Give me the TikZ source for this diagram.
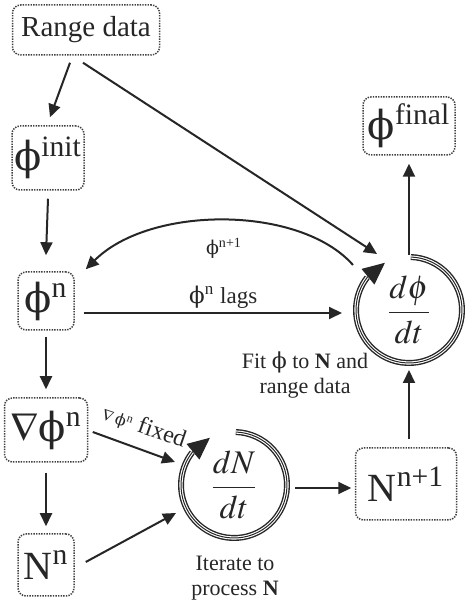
\documentclass[tikz,border=0pt]{standalone}
\usepackage{amsmath}
\usepackage{mathptmx}
\usepackage{fontspec}
\setmainfont{Liberation Serif}
\newfontfamily\phifont{DejaVu Serif}
\usetikzlibrary{arrows.meta}
\newcommand{\uphi}{{\phifont\char"03D5}}

\begin{document}
\begin{tikzpicture}[x=0.5pt,y=0.5pt,
    box/.style={draw=black!75,dash pattern=on 0.7pt off 0.6pt,line width=0.75pt,
      rounded corners=4pt,inner sep=1pt,text=black!85,font=\fontsize{20}{22}\selectfont},
    arr/.style={-{Triangle[length=6.5pt,width=6pt]},line width=1pt,black!85},
    ring/.style={line width=0.7pt,black!85,double distance=1.6pt,
      postaction={draw,line width=0.5pt,black!85}},
    tip/.style={-{Triangle[length=11pt,width=10pt]},line width=0.6pt,black!85},
    lab/.style={text=black!85,inner sep=1pt,font=\fontsize{10.5}{12}\selectfont}]
  \useasboundingbox (0,0) rectangle (467,609);

  % boxes
  \node[box,minimum width=73.5pt,minimum height=25pt,font=\fontsize{14.5}{16}\selectfont] (range) at (86,579) {Range data};
  \node[box,minimum width=36pt,minimum height=32pt] (init) at (48,451) {\uphi\textsuperscript{init}};
  \node[box,minimum width=28pt,minimum height=29pt] (phin) at (46,308) {\uphi\textsuperscript{n}};
  \node[box,minimum width=41.5pt,minimum height=32pt] (grad) at (46,179) {$\nabla$\uphi\textsuperscript{n}};
  \node[box,minimum width=28pt,minimum height=31pt] (Nn) at (46,44) {N\textsuperscript{n}};
  \node[box,minimum width=50.5pt,minimum height=36pt] (Nn1) at (406,125) {N\textsuperscript{n+1}};
  \node[box,minimum width=46pt,minimum height=29pt] (final) at (409,483) {\uphi\textsuperscript{final}};

  % rate circles
  \node[circle,minimum size=55pt,inner sep=0pt,text=black!85,font=\fontsize{16.5}{18}\selectfont] (dphi) at (409,299) {$\dfrac{d\phi}{dt}$};
  \node[circle,minimum size=55pt,inner sep=0pt,text=black!85,font=\fontsize{16.5}{18}\selectfont] (dN) at (234,124) {$\dfrac{dN}{dt}$};
  \draw[ring] (dphi.center) ++(88:26.5pt) arc[start angle=88,end angle=-218,radius=26.5pt];
  \draw[tip] ([shift={(142:26.5pt)}]dphi.center) -- ([shift={(117:26.5pt)}]dphi.center);
  \draw[ring] (dN.center) ++(88:26.5pt) arc[start angle=88,end angle=-218,radius=26.5pt];
  \draw[tip] ([shift={(142:26.5pt)}]dN.center) -- ([shift={(117:26.5pt)}]dN.center);

  % connectors
  \draw[arr] ([shift={(-16,-7)}]range.south) -- ([shift={(2,8)}]init.north);
  \draw[arr] ([shift={(-3,-7)}]range.south) -- ([shift={(-32,56)}]dphi.center);
  \draw[arr] ([shift={(0,-8)}]init.south) -- ([shift={(0,16)}]phin.north);
  \draw[arr] ([shift={(0,-6)}]phin.south) -- ([shift={(0,8)}]grad.north);
  \draw[arr] ([shift={(0,-10)}]grad.south) -- ([shift={(0,7)}]Nn.north);
  \draw[arr] ([shift={(9,-12)}]phin.east) -- ([shift={(-67,-3)}]dphi.center)
    node[lab,pos=0.54,above=1pt,font=\fontsize{11.5}{13}\selectfont] (lags) {\uphi\textsuperscript{n} lags};
  \draw[arr] ([shift={(-56,45)}]dphi.center) .. controls (300,404) and (150,404) .. ([shift={(11,2)}]phin.north east);
  \node[lab,font=\fontsize{9.5}{11}\selectfont] (next) at (224,361) {\uphi\textsuperscript{n+1}};
  \draw[arr] ([shift={(4.5,-2)}]grad.east) -- ([shift={(-59,23)}]dN.center);
  \node[lab,rotate=-19,font=\fontsize{12}{14}\selectfont] (fixed) at (144,182) {{\footnotesize$\nabla$\,\uphi\textsuperscript{n}} fixed};
  \draw[arr] ([shift={(11,3)}]Nn.east) -- ([shift={(-58,-28)}]dN.center);
  \draw[arr] ([shift={(61,-3)}]dN.center) -- ([shift={(-3.5,-4)}]Nn1.west);
  \draw[arr] ([shift={(3,8)}]Nn1.north) -- ([shift={(0,-60)}]dphi.center);
  \draw[arr] ([shift={(0,55)}]dphi.center) -- ([shift={(0,-8)}]final.south);

  % notes
  \node[lab,align=center,font=\fontsize{11}{12.5}\selectfont] (fit) at (305,234) {Fit \uphi{} to \textbf{N} and\\range data};
  \node[lab,align=center,font=\fontsize{11}{12.5}\selectfont] (iter) at (235,31) {Iterate to\\process \textbf{N}};
\end{tikzpicture}
\end{document}
